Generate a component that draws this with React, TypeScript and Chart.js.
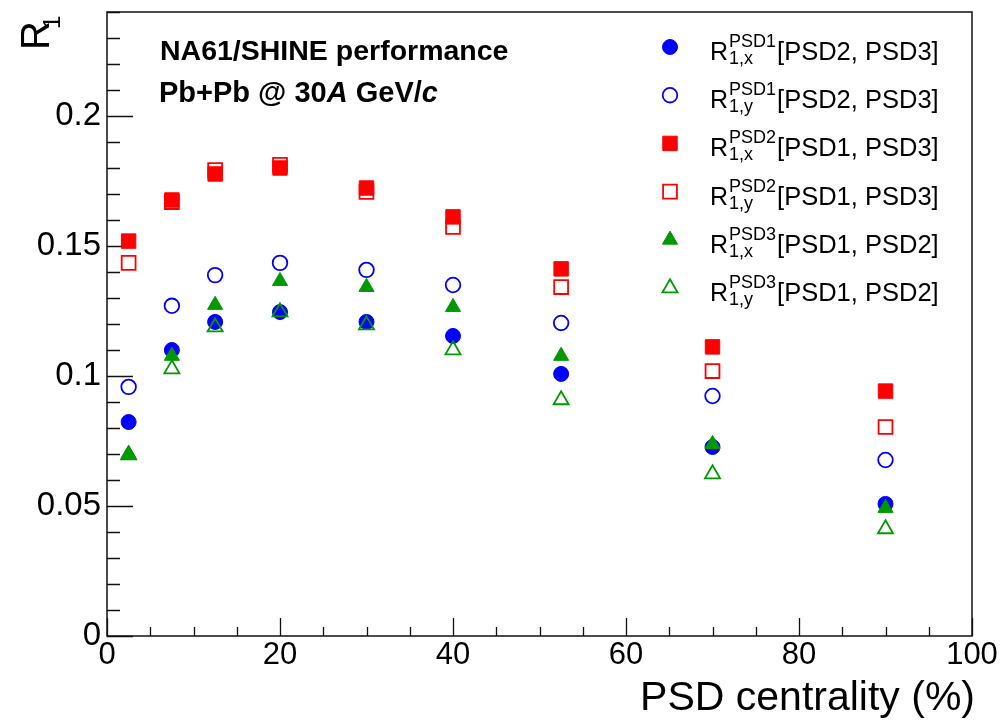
import React, { useEffect, useRef } from 'react';
import { Chart, registerables } from 'chart.js';
import { drawPoint } from 'chart.js/helpers';

Chart.register(...registerables);

// ---- Data ----
const CENTRALITY = [2.5, 7.5, 12.5, 20, 30, 40, 52.5, 70, 90];

const R1X_PSD1 = [0.0823, 0.110, 0.1208, 0.1246, 0.1208, 0.1154, 0.1008, 0.0727, 0.0508];
const R1Y_PSD1 = [0.0958, 0.127, 0.1388, 0.1435, 0.1408, 0.135, 0.1204, 0.0923, 0.0677];
const R1X_PSD2 = [0.1519, 0.1677, 0.1777, 0.180, 0.1723, 0.1612, 0.1412, 0.1112, 0.0942];
const R1Y_PSD2 = [0.1435, 0.1669, 0.1792, 0.1812, 0.1708, 0.1573, 0.1342, 0.1019, 0.0804];
const R1X_PSD3 = [0.0700, 0.1077, 0.1273, 0.1365, 0.1342, 0.1265, 0.1077, 0.0738, 0.0492];
const R1Y_PSD3 = [0.0696, 0.1027, 0.1188, 0.1246, 0.1196, 0.1100, 0.0908, 0.0623, 0.0412];

const LEGEND_SUP = ['PSD1', 'PSD1', 'PSD2', 'PSD2', 'PSD3', 'PSD3'];
const LEGEND_SUB = ['1,x', '1,y', '1,x', '1,y', '1,x', '1,y'];
const LEGEND_REST = ['[PSD2, PSD3]', '[PSD2, PSD3]', '[PSD1, PSD3]', '[PSD1, PSD3]', '[PSD1, PSD2]', '[PSD1, PSD2]'];

const X_TICKS = [0, 20, 40, 60, 80, 100];
const Y_TICKS = [0, 0.05, 0.1, 0.15, 0.2];

const X_TITLE = 'PSD centrality (%)';
const Y_TITLE = 'R';
const Y_TITLE_SUB = '1';
const TEXT_LINE1 = 'NA61/SHINE performance';

const FONT = '"Liberation Sans", Arial, Helvetica, sans-serif';

const BLUE = '#0000ff';
const RED = '#ff0000';
const GREEN = '#009900';

type Spec = { values: number[]; color: string; filled: boolean; style: string; radius: number };
const SPECS: Spec[] = [
  { values: R1X_PSD1, color: BLUE, filled: true, style: 'circle', radius: 7.5 },
  { values: R1Y_PSD1, color: BLUE, filled: false, style: 'circle', radius: 7.3 },
  { values: R1X_PSD2, color: RED, filled: true, style: 'rect', radius: 10.2 },
  { values: R1Y_PSD2, color: RED, filled: false, style: 'rect', radius: 9.8 },
  { values: R1X_PSD3, color: GREEN, filled: true, style: 'triangle', radius: 8.7 },
  { values: R1Y_PSD3, color: GREEN, filled: false, style: 'triangle', radius: 8.7 },
];

function drawMarker(ctx: CanvasRenderingContext2D, s: Spec, x: number, y: number) {
  ctx.save();
  ctx.fillStyle = s.filled ? s.color : 'rgba(0,0,0,0)';
  ctx.strokeStyle = s.color;
  ctx.lineWidth = s.filled ? 1 : 1.8;
  drawPoint(ctx, { pointStyle: s.style as any, radius: s.radius, rotation: 0, borderWidth: s.filled ? 1 : 1.8 } as any, x, y);
  ctx.restore();
}

const overlayPlugin = {
  id: 'rootOverlay',
  beforeDatasetsDraw(chart: any) {
    const { ctx, chartArea } = chart;
    const xs = chart.scales.x;
    const ys = chart.scales.y;
    const { left, right, top, bottom } = chartArea;
    ctx.save();
    ctx.strokeStyle = '#111';
    ctx.lineWidth = 1.5;
    ctx.strokeRect(left, top, right - left, bottom - top);
    ctx.lineWidth = 1.3;
    ctx.beginPath();
    for (let k = 0; k <= 24; k++) {
      const v = k / 100;
      const py = Math.round(ys.getPixelForValue(v)) + 0.5;
      const len = k % 5 === 0 ? 26 : 13;
      ctx.moveTo(left, py);
      ctx.lineTo(left + len, py);
    }
    for (let k = 0; k <= 20; k++) {
      const v = k * 5;
      const px = Math.round(xs.getPixelForValue(v)) + 0.5;
      const len = k % 4 === 0 ? 18 : 9;
      ctx.moveTo(px, bottom);
      ctx.lineTo(px, bottom - len);
    }
    ctx.stroke();
    ctx.restore();
  },
  afterDraw(chart: any) {
    const { ctx, chartArea } = chart;
    ctx.save();
    ctx.fillStyle = '#000';
    ctx.textBaseline = 'alphabetic';

    ctx.font = `41px ${FONT}`;
    ctx.textAlign = 'right';
    ctx.fillText(X_TITLE, chartArea.right + 3, 710);

    ctx.save();
    ctx.translate(49, 50);
    ctx.rotate(-Math.PI / 2);
    ctx.textAlign = 'left';
    ctx.font = `40px ${FONT}`;
    ctx.fillText(Y_TITLE, 0, 0);
    const rw = ctx.measureText(Y_TITLE).width;
    ctx.font = `24px ${FONT}`;
    ctx.fillText(Y_TITLE_SUB, rw - 8, 11);
    ctx.restore();

    ctx.textAlign = 'left';
    ctx.font = `bold 28.5px ${FONT}`;
    ctx.fillText(TEXT_LINE1, 160, 60);
    let x = 159;
    const parts: [string, boolean][] = [['Pb+Pb @ 30', false], ['A', true], [' GeV/', false], ['c', true]];
    for (const [t, it] of parts) {
      ctx.font = `${it ? 'italic ' : ''}bold 29px ${FONT}`;
      ctx.fillText(t, x, 102);
      x += ctx.measureText(t).width;
    }

    for (let i = 0; i < SPECS.length; i++) {
      const cy = 47 + i * 48.2;
      drawMarker(ctx, SPECS[i], 670, cy);
      const rx = 710;
      ctx.font = `25px ${FONT}`;
      ctx.fillText('R', rx, cy + 13);
      const rW = ctx.measureText('R').width;
      ctx.font = `18px ${FONT}`;
      ctx.fillText(LEGEND_SUP[i], rx + rW + 1, cy);
      const supW = ctx.measureText(LEGEND_SUP[i]).width;
      ctx.fillText(LEGEND_SUB[i], rx + rW + 1, cy + 17);
      const subW = ctx.measureText(LEGEND_SUB[i]).width;
      ctx.font = `25.5px ${FONT}`;
      ctx.fillText(LEGEND_REST[i], rx + rW + 1 + Math.max(supW, subW) + 1, cy + 13);
    }
    ctx.restore();
  },
};

export default function App() {
  const canvasRef = useRef<HTMLCanvasElement | null>(null);

  useEffect(() => {
    document.body.style.margin = '0';
    const canvas = canvasRef.current;
    if (!canvas) return;
    const datasets = SPECS.map((s, i) => ({
      label: `${LEGEND_SUB[i]} ${LEGEND_SUP[i]}`,
      data: CENTRALITY.map((c, j) => ({ x: c, y: s.values[j] })),
      showLine: false,
      pointStyle: s.style,
      pointRadius: s.radius,
      pointHoverRadius: s.radius,
      pointBackgroundColor: s.filled ? s.color : 'rgba(0,0,0,0)',
      pointBorderColor: s.color,
      pointBorderWidth: s.filled ? 1 : 1.8,
      pointHoverBorderWidth: s.filled ? 1 : 1.8,
      order: SPECS.length - 1 - i,
    }));

    const chart = new Chart(canvas, {
      type: 'scatter',
      data: { datasets: datasets as any },
      options: {
        animation: false,
        responsive: false,
        devicePixelRatio: 1,
        layout: { padding: { left: 0, right: 36, top: 12, bottom: 0 } },
        plugins: {
          legend: { display: false },
          tooltip: { enabled: false },
          title: { display: false },
        },
        events: [],
        scales: {
          x: {
            type: 'linear',
            position: 'bottom',
            min: 0,
            max: 100,
            grid: { display: false, drawTicks: false },
            border: { display: false },
            ticks: {
              color: '#000',
              font: { family: FONT, size: 31 },
              padding: 1,
              maxRotation: 0,
              autoSkip: false,
            },
            afterBuildTicks: (s: any) => {
              s.ticks = X_TICKS.map((v) => ({ value: v }));
            },
            afterFit: (s: any) => {
              s.height = 85;
              s.paddingLeft = 0;
              s.paddingRight = 0;
            },
          },
          y: {
            type: 'linear',
            min: 0,
            max: 0.24,
            grid: { display: false, drawTicks: false },
            border: { display: false },
            ticks: {
              color: '#000',
              font: { family: FONT, size: 33 },
              padding: 6,
              callback: (v: any) => String(v),
            },
            afterBuildTicks: (s: any) => {
              s.ticks = Y_TICKS.map((v) => ({ value: v }));
            },
            afterFit: (s: any) => {
              s.width = 107;
              s.paddingTop = 0;
              s.paddingBottom = 0;
            },
          },
        },
      },
      plugins: [overlayPlugin],
    });
    return () => chart.destroy();
  }, []);

  return (
    <div style={{ width: 1008, height: 721, background: '#fff' }}>
      <canvas ref={canvasRef} width={1008} height={721} style={{ display: 'block' }} />
    </div>
  );
}
